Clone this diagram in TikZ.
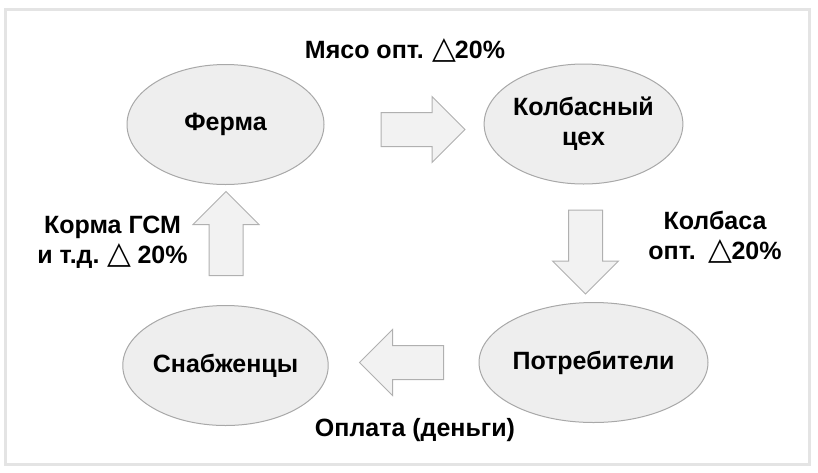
\documentclass[tikz,border=0pt]{standalone}
\usepackage{fontspec}
\setmainfont{Liberation Sans}
\newfontfamily\symfont{DejaVu Sans}
\usetikzlibrary{shapes.geometric,shapes.arrows}
\definecolor{ovalfill}{HTML}{EEEEEE}
\definecolor{ovalline}{HTML}{A8A8A8}
\definecolor{arrfill}{HTML}{F2F2F2}
\definecolor{arrline}{HTML}{B0B0B0}
\definecolor{framegray}{HTML}{E4E4E4}
\newcommand{\tri}{{\symfont\mdseries\fontsize{31}{30}\selectfont\kern-1pt△\kern-1pt}}
\tikzset{
  oval/.style={ellipse, draw=ovalline, fill=ovalfill, line width=1pt,
    minimum width=197pt, minimum height=120pt, inner sep=0pt, align=center},
  blockarr/.style={single arrow, draw=arrline, fill=arrfill, line width=1pt,
    minimum height=84pt, inner sep=0pt, inner ysep=16.5pt,
    single arrow head extend=16pt, single arrow tip angle=90},
  lbl/.style={align=center}
}
\begin{document}
\begin{tikzpicture}[x=1pt, y=-1pt,
    every node/.style={font=\fontsize{25}{30}\selectfont\bfseries}]
    \useasboundingbox (0,0) rectangle (818,472);
    % Frame
    \draw[framegray, line width=3pt] (5,9) rectangle (809,464);

    % Ovals
    \node[oval] (farm) at (225.5,124.5) {Ферма};
    \node[oval] (plant) at (583.5,124) {Колбасный\\цех};
    \node[oval] (buyers) at (593.5,362.5) {Потребители};
    \node[oval] (suppliers) at (225.5,365.5) {Снабженцы};

    % Block arrows
    \node[blockarr] (meat) at (414.5,129.5) {};
    \node[blockarr, rotate=-90] (sausage) at (585.5,243.5) {};
    \node[blockarr, rotate=180] (money) at (410,362.5) {};
    \node[blockarr, rotate=90] (feed) at (226,242) {};

    % Labels
    \node[lbl] (meatlbl) at (405,50) {Мясо опт. \tri20\%};
    \node[lbl] (sausagelbl) at (715,237) {Колбаса\\опт.~~\tri20\%};
    \node[lbl] (moneylbl) at (415,430) {Оплата (деньги)};
    \node[lbl] (feedlbl) at (112.5,242) {Корма ГСМ\\и т.д. \tri{} 20\%};
\end{tikzpicture}
\end{document}
